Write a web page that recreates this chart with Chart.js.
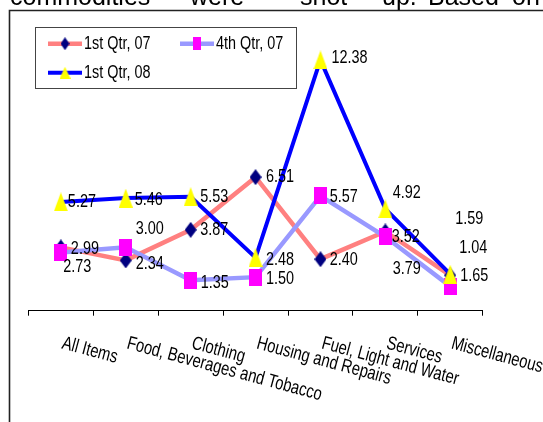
<!DOCTYPE html>
<html>
<head>
<meta charset="utf-8">
<script src="https://cdn.jsdelivr.net/npm/chart.js@4/dist/chart.umd.min.js"></script>
<style>
  html, body { margin: 0; padding: 0; background: #fff; overflow: hidden; }
  canvas { display: block; }
</style>
</head>
<body>
<canvas id="c" width="543" height="422"></canvas>
<script>
// Categories and the three quarterly series (percent change)
const categories = ['All Items', 'Food, Beverages and Tobacco', 'Clothing', 'Housing and Repairs',
                    'Fuel, Light and Water', 'Services', 'Miscellaneous'];
const seriesNames = ['1st Qtr, 07', '4th Qtr, 07', '1st Qtr, 08'];
const q1_07 = [2.99, 2.34, 3.87, 6.51, 2.40, 3.79, 1.59];
const q4_07 = [2.73, 3.00, 1.35, 1.50, 5.57, 3.52, 1.04];
const q1_08 = [5.27, 5.46, 5.53, 2.48, 12.38, 4.92, 1.65];
const headingWords = ['commodities', 'were', 'shot', 'up.', 'Based', 'on'];

// Where each value label sits relative to its point [dx, dy]
const nudgeQ1_07 = [[10, 1], [10, 3], [9.5, 0], [10.5, 0], [9.3, 1], [7.3, 37], [5, -57]];
const nudgeQ4_07 = [[2.3, 14], [10, -18], [10, 3], [10.5, 2], [9.3, 1], [6.3, 0], [9, -39]];
const nudgeQ1_08 = [[7, 0], [9, 2], [9.5, 0], [10.5, 2], [11, -2], [7.3, -16], [10, 2]];

const FONT = '"Liberation Sans", Arial, sans-serif';

function marker(kind, w, h, fill) {
  const c = document.createElement('canvas');
  c.width = w; c.height = h;
  const g = c.getContext('2d');
  g.fillStyle = fill;
  g.beginPath();
  if (kind === 'diamond') {
    g.moveTo(w / 2, 0); g.lineTo(w, h / 2); g.lineTo(w / 2, h); g.lineTo(0, h / 2);
  } else if (kind === 'square') {
    g.rect(0, 0, w, h);
  } else {
    g.moveTo(w / 2, 0); g.lineTo(w, h); g.lineTo(0, h);
  }
  g.closePath();
  g.fill();
  return c;
}

const styles = [
  { line: '#FF8080', width: 4.5, mark: marker('diamond', 12, 16, '#000080'), legendMark: marker('diamond', 9, 13, '#000080') },
  { line: '#9999FF', width: 4.5, mark: marker('square', 13, 17, '#FF00FF'), legendMark: marker('square', 8, 13, '#FF00FF') },
  { line: '#0000FF', width: 4, mark: marker('triangle', 14, 19, '#FFFF00'), legendMark: marker('triangle', 11, 12, '#FFFF00') }
];
const seriesData = [q1_07, q4_07, q1_08];
const nudges = [nudgeQ1_07, nudgeQ4_07, nudgeQ1_08];

function squeezedText(ctx, text, x, y, size, sx, angle, baseline) {
  ctx.save();
  ctx.translate(x, y);
  if (angle) ctx.rotate(angle * Math.PI / 180);
  ctx.scale(sx, 1);
  ctx.font = size + 'px ' + FONT;
  ctx.fillStyle = '#000';
  ctx.textAlign = 'left';
  ctx.textBaseline = baseline || 'middle';
  ctx.fillText(text, 0, 0);
  ctx.restore();
}

const decorations = {
  id: 'decorations',
  beforeDraw(chart) {
    const ctx = chart.ctx;
    ctx.save();
    ctx.fillStyle = '#fff';
    ctx.fillRect(0, 0, chart.width, chart.height);
    // running text above the figure
    ctx.fillStyle = '#000';
    ctx.font = '25px ' + FONT;
    ctx.textBaseline = 'alphabetic';
    const xs = [10, 190, 300, 382, 428, 512];
    headingWords.forEach((w, i) => ctx.fillText(w, xs[i], 5));
    // figure frame
    ctx.strokeStyle = '#222';
    ctx.lineWidth = 1.6;
    ctx.beginPath();
    ctx.moveTo(9.5, chart.height + 2);
    ctx.lineTo(9.5, 10.5);
    ctx.lineTo(chart.width + 2, 10.5);
    ctx.stroke();
    ctx.restore();
  },
  afterDatasetsDraw(chart) {
    const ctx = chart.ctx;
    chart.data.datasets.forEach((ds, di) => {
      const meta = chart.getDatasetMeta(di);
      meta.data.forEach((pt, i) => {
        const [dx, dy] = nudges[di][i];
        squeezedText(ctx, ds.data[i].toFixed(2), pt.x + dx, pt.y + dy, 19, 0.76, 0, 'middle');
      });
    });
  },
  afterDraw(chart) {
    const ctx = chart.ctx;
    const xs = chart.scales.x;
    // slanted category names
    categories.forEach((name, i) => {
      const x = xs.getPixelForValue(i) + 4;
      squeezedText(ctx, name, x, 334, 19, 0.78, 15, 'top');
    });
    // legend box
    ctx.save();
    ctx.strokeStyle = '#444';
    ctx.lineWidth = 1;
    ctx.strokeRect(35.5, 27.5, 261, 61);
    ctx.restore();
    const entries = [
      { x: 48, y: 43.7 },
      { x: 180, y: 43.7 },
      { x: 48, y: 72.7 }
    ];
    entries.forEach((e, i) => {
      const st = styles[i];
      ctx.save();
      ctx.strokeStyle = st.line;
      ctx.lineWidth = st.width;
      ctx.beginPath();
      ctx.moveTo(e.x, e.y);
      ctx.lineTo(e.x + 34, e.y);
      ctx.stroke();
      const m = st.legendMark;
      ctx.drawImage(m, e.x + 17 - m.width / 2, e.y - m.height / 2);
      ctx.restore();
      squeezedText(ctx, seriesNames[i], e.x + 36, e.y, 18, 0.8, 0, 'middle');
    });
  }
};

const datasets = seriesData.map((vals, i) => ({
  label: seriesNames[i],
  data: vals,
  borderColor: styles[i].line,
  borderWidth: styles[i].width,
  pointStyle: styles[i].mark,
  pointRadius: 6,
  tension: 0,
  fill: false,
  order: 2 - i
}));

new Chart(document.getElementById('c'), {
  type: 'line',
  data: { labels: categories, datasets },
  options: {
    responsive: false,
    animation: false,
    events: [],
    layout: { padding: { left: 28.4, right: 60.3, top: 27, bottom: 0 } },
    plugins: { legend: { display: false }, tooltip: { enabled: false } },
    scales: {
      x: {
        type: 'category',
        offset: true,
        grid: { display: true, offset: true, drawOnChartArea: false, drawTicks: true, tickLength: 5, color: '#000', lineWidth: 1 },
        border: { display: true, color: '#000', width: 1 },
        ticks: { display: false },
        afterFit(scale) { scale.height = 111.3; }
      },
      y: {
        display: false,
        min: -0.18,
        max: 14.03
      }
    }
  },
  plugins: [decorations]
});
</script>
</body>
</html>
